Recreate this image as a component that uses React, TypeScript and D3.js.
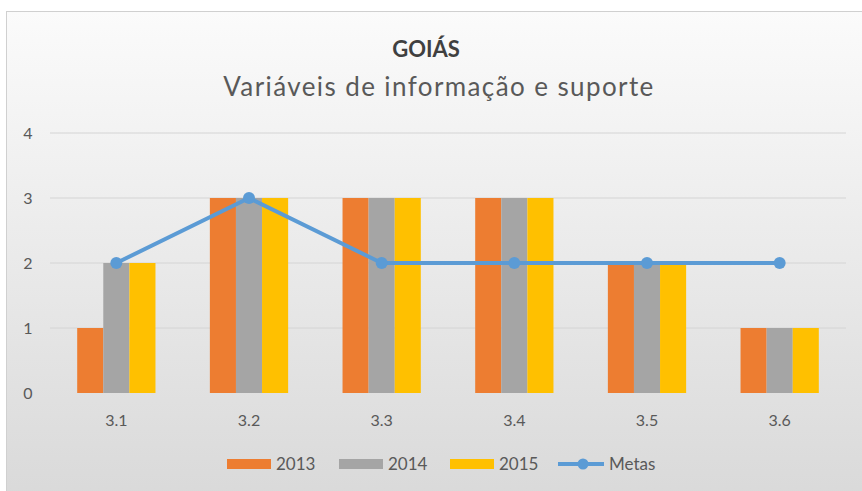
import React from "react";
import * as d3 from "d3";

const categories = ["3.1", "3.2", "3.3", "3.4", "3.5", "3.6"];
const seriesNames = ["2013", "2014", "2015"];
const values2013 = [1, 3, 3, 3, 2, 1];
const values2014 = [2, 3, 3, 3, 2, 1];
const values2015 = [2, 3, 3, 3, 2, 1];
const metas = [2, 3, 2, 2, 2, 2];
const yTicks = [0, 1, 2, 3, 4];
const barColors = ["#ED7D31", "#A5A5A5", "#FFC000"];
const lineColor = "#5B9BD5";

const W = 862;
const H = 491;
const FONT = "Lato, 'Open Sans', sans-serif";

export default function App() {
  const seriesValues = [values2013, values2014, values2015];
  const x = d3.scaleBand<string>().domain(categories).range([50, 846]).paddingInner(0).paddingOuter(0);
  const y = d3.scaleLinear().domain([0, 4]).range([393, 133]);
  const groupW = x.bandwidth() * 0.59;
  const inner = d3.scaleBand<string>().domain(seriesNames).range([0, groupW]);
  const cx = (c: string) => (x(c) as number) + x.bandwidth() / 2;
  const line = d3
    .line<number>()
    .x((_, i) => cx(categories[i]))
    .y((d) => y(d));

  const legendItems = [
    { label: "2013", x: 227, color: barColors[0], type: "bar" },
    { label: "2014", x: 339, color: barColors[1], type: "bar" },
    { label: "2015", x: 450, color: barColors[2], type: "bar" },
    { label: "Metas", x: 558, color: lineColor, type: "line" },
  ];

  return (
    <svg width={W} height={H} style={{ position: "absolute", left: 0, top: 0 }}>
      <defs>
        <linearGradient id="bg" x1="0" y1="0" x2="0" y2="1">
          <stop offset="0" stopColor="#fbfbfb" />
          <stop offset="1" stopColor="#d9d9d9" />
        </linearGradient>
      </defs>
      <rect x={0} y={0} width={W} height={H} fill="#ffffff" />
      <rect x={6.5} y={11.5} width={860} height={490} fill="url(#bg)" stroke="#d0d0d0" strokeWidth={1} />

      <text x={426} y={57} textAnchor="middle" fontFamily={FONT} fontWeight="bold" fontSize={22} fill="#404040">
        GOIÁS
      </text>
      <text x={439} y={96} textAnchor="middle" fontFamily={FONT} fontSize={26} letterSpacing={1.4} fill="#595959">
        Variáveis de informação e suporte
      </text>

      {yTicks.map((t) => (
        <g key={t}>
          {t > 0 && (
            <line x1={50} x2={846} y1={y(t)} y2={y(t)} stroke="#d4d4d4" strokeWidth={1} />
          )}
          <text x={28} y={y(t) + 6} textAnchor="middle" fontFamily={FONT} fontSize={16} fill="#595959">
            {t}
          </text>
        </g>
      ))}

      {categories.map((c, ci) => (
        <g key={c}>
          {seriesValues.map((vals, si) => (
            <rect
              key={si}
              x={cx(c) - groupW / 2 + (inner(seriesNames[si]) as number)}
              y={y(vals[ci])}
              width={inner.bandwidth()}
              height={y(0) - y(vals[ci])}
              fill={barColors[si]}
            />
          ))}
          <text x={cx(c)} y={426} textAnchor="middle" fontFamily={FONT} fontSize={16} fill="#595959">
            {c}
          </text>
        </g>
      ))}

      <path d={line(metas) || ""} fill="none" stroke={lineColor} strokeWidth={4} strokeLinejoin="round" />
      {metas.map((m, i) => (
        <circle key={i} cx={cx(categories[i])} cy={y(m)} r={6} fill={lineColor} />
      ))}

      {legendItems.map((it) => (
        <g key={it.label}>
          {it.type === "bar" ? (
            <rect x={it.x} y={459} width={44} height={10} fill={it.color} />
          ) : (
            <g>
              <line x1={it.x} x2={it.x + 46} y1={464} y2={464} stroke={it.color} strokeWidth={4} />
              <circle cx={it.x + 25} cy={464} r={5.5} fill={it.color} />
            </g>
          )}
          <text
            x={it.x + (it.type === "bar" ? 49 : 51)}
            y={470}
            fontFamily={FONT}
            fontSize={17}
            fill="#595959"
          >
            {it.label}
          </text>
        </g>
      ))}
    </svg>
  );
}
